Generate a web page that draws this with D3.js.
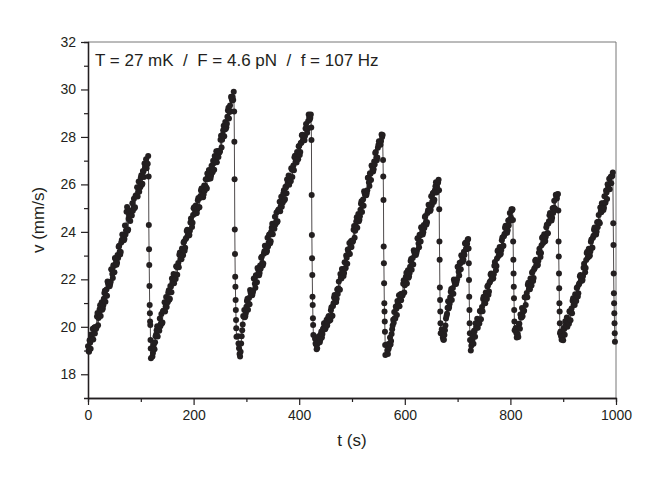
<!DOCTYPE html>
<html>
<head>
<meta charset="utf-8">
<script src="https://cdnjs.cloudflare.com/ajax/libs/d3/7.8.5/d3.min.js"></script>
<style>
  body { margin: 0; background: #fff; }
  svg text { font-family: "Liberation Sans", Arial, Helvetica, sans-serif; fill: #231f20; }
</style>
</head>
<body>
<svg id="chart" width="664" height="487"></svg>
<script>
// each stick-slip cycle: slow ramp (read every ~2 s, plus the readings in between) then the fast drop
var rampStart = [0, 122, 284, 430, 566, 670, 725, 810, 895];
var rampEnd = [114, 276, 422, 558, 664, 720, 804, 890, 994];
var dropStep = 0.4;

var ramp1 = [19.18, 18.95, 19.33, 19.68, 19.47, 19.46, 19.97, 19.99, 19.96, 20.58,
  20.37, 20.74, 20.45, 21.03, 20.77, 21.18, 21.52, 21.31, 21.31, 21.82,
  21.84, 21.80, 22.42, 22.22, 22.59, 22.30, 22.87, 22.61, 23.03, 23.37,
  23.16, 23.15, 23.66, 23.69, 23.65, 24.27, 24.06, 25.05, 24.10, 24.72,
  24.46, 24.87, 25.21, 25.01, 25.00, 25.51, 25.53, 25.49, 26.12, 25.91,
  26.28, 25.99, 26.56, 26.31, 26.72, 27.06, 26.85, 27.20];
var ramp1Mid = [18.98, 19.43, 19.08, 19.58, 19.92, 19.73, 19.72, 19.91, 20.43, 20.07,
  20.57, 20.91, 20.72, 20.72, 20.91, 21.42, 21.06, 21.57, 21.91, 21.72,
  21.71, 21.90, 22.41, 22.06, 22.56, 22.90, 22.71, 22.70, 22.90, 23.41,
  23.05, 23.55, 23.89, 23.71, 23.70, 23.89, 24.85, 24.05, 24.55, 24.89,
  24.70, 24.69, 24.89, 25.40, 25.04, 25.54, 25.88, 25.70, 25.69, 25.88,
  26.39, 26.03, 26.54, 26.88, 26.69, 26.68, 26.87];

var ramp2 = [18.75, 19.20, 19.05, 19.60, 19.85, 19.59, 20.01, 20.35, 20.14, 20.14,
  20.65, 20.68, 20.64, 21.26, 21.06, 21.43, 21.14, 21.72, 21.46, 21.88,
  22.22, 22.01, 22.01, 22.52, 22.54, 22.51, 23.13, 22.93, 23.30, 23.01,
  23.59, 23.33, 23.74, 24.09, 23.88, 23.87, 24.39, 24.41, 24.38, 25.00,
  24.76, 25.11, 24.79, 25.33, 25.04, 25.43, 25.74, 25.50, 25.46, 25.95,
  25.94, 25.87, 26.46, 26.23, 26.57, 26.25, 26.79, 26.51, 26.89, 27.20,
  26.96, 26.93, 27.41, 27.40, 27.40, 28.05, 27.88, 28.28, 28.03, 28.63,
  28.41, 28.85, 29.23, 29.05, 29.08, 29.62, 29.68, 29.90];
var ramp2Mid = [18.90, 19.30, 19.35, 19.68, 20.02, 19.84, 19.83, 20.02, 20.54, 20.18,
  20.68, 21.03, 20.84, 20.83, 21.03, 21.54, 21.18, 21.69, 22.03, 21.85,
  21.84, 22.03, 22.55, 22.19, 22.69, 23.04, 22.85, 22.85, 23.04, 23.55,
  23.20, 23.70, 24.04, 23.86, 23.85, 24.05, 24.56, 24.20, 24.71, 25.04,
  24.82, 24.78, 24.95, 25.43, 25.04, 25.51, 25.83, 25.61, 25.57, 25.73,
  26.22, 25.83, 26.30, 26.61, 26.40, 26.36, 26.52, 27.00, 26.62, 27.09,
  27.40, 27.18, 27.15, 27.34, 27.88, 27.56, 28.09, 28.47, 28.31, 28.34,
  28.56, 29.11, 28.78, 29.32, 29.69, 29.54, 29.56];

var ramp3 = [19.60, 19.10, 18.75, 19.30, 19.85, 20.45, 20.71, 20.45, 20.85, 21.18,
  20.97, 20.95, 21.45, 21.46, 21.42, 22.03, 21.81, 22.17, 21.88, 22.44,
  22.17, 22.58, 22.91, 22.69, 22.67, 23.18, 23.19, 23.14, 23.75, 23.54,
  23.90, 23.60, 24.17, 23.90, 24.30, 24.64, 24.42, 24.40, 24.90, 24.92,
  24.87, 25.48, 25.27, 25.63, 25.33, 25.90, 25.63, 26.03, 26.37, 26.15,
  26.13, 26.63, 26.65, 26.60, 27.21, 27.00, 27.36, 27.06, 27.62, 27.36,
  27.76, 28.09, 27.88, 27.86, 28.36, 28.38, 28.33, 28.94, 28.73, 28.95];
var ramp3Mid = [19.30, 18.85, 18.95, 19.60, 20.10, 20.42, 20.40, 20.58, 21.09, 20.72,
  21.21, 21.55, 21.35, 21.33, 21.52, 22.02, 21.65, 22.15, 22.48, 22.28,
  22.27, 22.45, 22.95, 22.58, 23.08, 23.41, 23.21, 23.20, 23.38, 23.88,
  23.52, 24.01, 24.34, 24.15, 24.13, 24.31, 24.82, 24.45, 24.94, 25.27,
  25.08, 25.06, 25.24, 25.75, 25.38, 25.87, 26.21, 26.01, 25.99, 26.18,
  26.68, 26.31, 26.80, 27.14, 26.94, 26.92, 27.11, 27.61, 27.24, 27.74,
  28.07, 27.87, 27.86, 28.04, 28.54, 28.18, 28.67, 28.82, 28.81];

var ramp4 = [19.50, 19.25, 19.10, 19.35, 19.55, 19.45, 19.80, 19.70, 19.95, 20.10,
  19.95, 20.30, 20.20, 20.45, 20.40, 20.70, 20.45, 20.88, 21.23, 21.04,
  21.05, 21.57, 21.61, 21.58, 22.22, 22.03, 22.41, 22.14, 22.72, 22.48,
  22.91, 23.26, 23.07, 23.07, 23.60, 23.64, 23.61, 24.25, 24.05, 24.44,
  24.17, 24.75, 24.51, 24.93, 25.29, 25.10, 25.10, 25.63, 25.66, 25.64,
  26.28, 26.08, 26.47, 26.19, 26.78, 26.54, 26.96, 27.32, 27.12, 27.13,
  27.66, 27.69, 27.67, 28.10, 28.08];
var ramp4Mid = [19.30, 19.05, 19.30, 19.60, 19.35, 19.70, 19.55, 19.90, 20.15, 19.90,
  20.20, 20.05, 20.40, 20.25, 20.29, 20.82, 20.47, 20.99, 21.34, 21.17,
  21.18, 21.38, 21.91, 21.56, 22.08, 22.44, 22.26, 22.27, 22.47, 23.00,
  22.66, 23.17, 23.53, 23.35, 23.36, 23.57, 24.09, 23.75, 24.26, 24.62,
  24.45, 24.45, 24.66, 25.18, 24.84, 25.36, 25.71, 25.54, 25.54, 25.75,
  26.28, 25.93, 26.45, 26.80, 26.63, 26.64, 26.84, 27.37, 27.02, 27.54,
  27.82, 27.72, 27.83, 28.00];

var ramp5 = [19.25, 18.85, 19.15, 19.55, 19.40, 19.90, 20.30, 20.62, 20.35, 20.76,
  21.09, 20.88, 20.87, 21.37, 21.39, 21.34, 21.96, 21.75, 22.11, 21.82,
  22.38, 22.12, 22.53, 22.86, 22.65, 22.63, 23.14, 23.16, 23.11, 23.73,
  23.51, 23.88, 23.59, 24.15, 23.89, 24.29, 24.63, 24.42, 24.40, 24.91,
  24.92, 24.88, 25.50, 25.28, 25.65, 25.35, 25.92, 25.66, 26.06, 26.20];
var ramp5Mid = [19.00, 19.05, 19.30, 19.25, 19.70, 20.05, 20.17, 20.36, 20.86, 20.50,
  20.99, 21.33, 21.14, 21.12, 21.31, 21.81, 21.45, 21.95, 22.28, 22.09,
  22.07, 22.26, 22.77, 22.40, 22.90, 23.23, 23.04, 23.03, 23.21, 23.72,
  23.35, 23.85, 24.19, 23.99, 23.98, 24.16, 24.67, 24.31, 24.80, 25.14,
  24.94, 24.93, 25.12, 25.62, 25.26, 25.75, 26.09, 25.90, 26.08];

var ramp6 = [19.90, 19.55, 19.45, 19.85, 20.35, 20.55, 21.08, 20.83, 21.24, 21.59,
  21.39, 21.39, 21.90, 21.93, 21.90, 22.53, 22.32, 22.70, 22.42, 22.99,
  22.74, 23.16, 23.51, 23.30, 23.50, 23.70];
var ramp6Mid = [19.70, 19.45, 19.65, 20.05, 20.45, 20.80, 20.77, 20.97, 21.48, 21.13,
  21.64, 21.99, 21.80, 21.80, 22.00, 22.51, 22.16, 22.67, 23.02, 22.83,
  22.83, 23.03, 23.54, 23.27, 23.67];

var ramp7 = [19.00, 19.35, 19.60, 19.83, 19.58, 19.99, 20.34, 20.14, 20.14, 20.65,
  20.68, 20.65, 21.27, 21.07, 21.45, 21.17, 21.74, 21.49, 21.91, 22.25,
  22.05, 22.05, 22.57, 22.59, 22.56, 23.19, 22.98, 23.36, 23.08, 23.65,
  23.40, 23.82, 24.17, 23.96, 23.96, 24.48, 24.50, 24.47, 24.95, 24.95];
var ramp7Mid = [19.20, 19.45, 19.29, 19.80, 20.15, 19.96, 19.96, 20.16, 20.67, 20.32,
  20.83, 21.17, 20.99, 20.99, 21.19, 21.70, 21.35, 21.86, 22.20, 22.02,
  22.02, 22.21, 22.73, 22.38, 22.88, 23.23, 23.05, 23.05, 23.24, 23.76,
  23.41, 23.91, 24.26, 24.08, 24.07, 24.27, 24.79, 24.61, 24.91];

var ramp8 = [19.95, 19.55, 19.70, 20.13, 19.92, 20.39, 20.79, 20.63, 20.68, 21.25,
  21.27, 21.24, 21.86, 21.66, 22.03, 21.74, 22.32, 22.06, 22.48, 22.82,
  22.62, 22.61, 23.12, 23.15, 23.11, 23.74, 23.53, 23.90, 23.62, 24.19,
  23.94, 24.35, 24.70, 24.49, 24.48, 25.00, 25.02, 24.99, 25.56, 25.41, 25.60];
var ramp8Mid = [19.75, 19.60, 19.57, 20.13, 20.52, 20.39, 20.44, 20.69, 21.25, 20.92,
  21.42, 21.77, 21.58, 21.58, 21.77, 22.28, 21.93, 22.43, 22.78, 22.59,
  22.58, 22.78, 23.29, 22.94, 23.44, 23.78, 23.60, 23.59, 23.79, 24.30,
  23.94, 24.45, 24.79, 24.61, 24.60, 24.79, 25.31, 24.95, 25.46, 25.57];

var ramp9 = [19.80, 19.45, 19.60, 19.95, 19.67, 20.07, 20.39, 20.16, 20.13, 20.62,
  20.63, 20.57, 21.20, 20.99, 21.37, 21.09, 21.67, 21.41, 21.83, 22.18,
  21.98, 21.97, 22.49, 22.52, 22.48, 23.11, 22.91, 23.29, 23.00, 23.58,
  23.33, 23.75, 24.09, 23.89, 23.89, 24.41, 24.43, 24.40, 25.03, 24.83,
  25.20, 24.92, 25.50, 25.24, 25.66, 26.01, 25.81, 25.80, 26.32, 26.35, 26.50];
var ramp9Mid = [19.60, 19.50, 19.43, 19.91, 20.23, 20.03, 20.00, 20.17, 20.66, 20.28,
  20.77, 21.10, 20.92, 20.92, 21.11, 21.63, 21.28, 21.78, 22.13, 21.95,
  21.94, 22.14, 22.66, 22.30, 22.81, 23.16, 22.97, 22.97, 23.17, 23.68,
  23.33, 23.84, 24.18, 24.00, 24.00, 24.19, 24.71, 24.36, 24.86, 25.21,
  25.03, 25.02, 25.22, 25.74, 25.38, 25.89, 26.24, 26.05, 26.05, 26.35];

var drop1 = [26.33, 24.29, 23.27, 22.60, 21.72, 20.92, 20.57, 20.22, 20.08, 19.44, 19.09, 18.67];
var drop2 = [29.07, 27.80, 26.22, 24.10, 23.07, 22.11, 21.69, 21.13, 20.71, 20.29, 19.94, 19.58];
var drop3 = [28.40, 27.87, 25.55, 23.87, 22.89, 22.18, 21.27, 20.92, 20.36, 20.08, 19.65];
var drop4 = [27.03, 26.33, 25.34, 23.38, 22.68, 21.83, 20.99, 20.64, 20.22, 19.79, 19.23, 18.81];
var drop5 = [25.75, 24.95, 23.59, 22.82, 21.66, 21.13, 20.64, 20.15, 19.73];
var drop6 = [23.30, 22.68, 21.97, 21.27, 20.71, 20.15, 19.73, 19.44];
var drop7 = [24.50, 23.59, 22.82, 22.25, 21.69, 21.20, 20.71, 20.22, 19.85];
var drop8 = [24.90, 23.59, 22.96, 22.25, 21.62, 20.99, 20.64, 20.15, 19.73];
var drop9 = [24.36, 23.45, 22.25, 21.41, 20.99, 20.57, 20.15, 19.73, 19.37];

var xMajor = [0, 200, 400, 600, 800, 1000];
var xMinor = [100, 300, 500, 700, 900];
var yMajor = [18, 20, 22, 24, 26, 28, 30, 32];
var yMinor = [19, 21, 23, 25, 27, 29, 31];

var ramps = [ramp1, ramp2, ramp3, ramp4, ramp5, ramp6, ramp7, ramp8, ramp9];
var mids = [ramp1Mid, ramp2Mid, ramp3Mid, ramp4Mid, ramp5Mid, ramp6Mid, ramp7Mid, ramp8Mid, ramp9Mid];
var drops = [drop1, drop2, drop3, drop4, drop5, drop6, drop7, drop8, drop9];

var points = [];
ramps.forEach(function (r, k) {
  var mid = mids[k];
  var dt = (rampEnd[k] - rampStart[k]) / (r.length - 1);
  r.forEach(function (v, i) {
    points.push({ t: rampStart[k] + i * dt, v: v });
    if (i < mid.length) {
      points.push({ t: rampStart[k] + (i + 0.5) * dt, v: mid[i] });
    }
  });
  drops[k].forEach(function (v, i) {
    points.push({ t: rampEnd[k] + 0.8 + i * dropStep, v: v });
  });
});

var svg = d3.select("#chart");
// note: "top" is taken by window.top, so plot edges get their own names
var plotLeft = 88, plotRight = 616, plotTop = 42, plotBottom = 398;

var x = d3.scaleLinear().domain([0, 1000]).range([plotLeft, plotRight]);
var y = d3.scaleLinear().domain([17, 32]).range([plotBottom, plotTop]);

// frame (top and right are plain lines)
svg.append("line").attr("x1", plotLeft).attr("x2", plotRight).attr("y1", plotTop).attr("y2", plotTop)
  .attr("stroke", "#777").attr("stroke-width", 1);
svg.append("line").attr("x1", plotRight).attr("x2", plotRight).attr("y1", plotTop).attr("y2", plotBottom)
  .attr("stroke", "#777").attr("stroke-width", 1);

function styleAxis(g) {
  g.select(".domain").attr("stroke", "#231f20").attr("stroke-width", 1.3);
  g.selectAll(".tick line").attr("stroke", "#231f20").attr("stroke-width", 1.2);
  g.selectAll(".tick text").attr("font-size", "14px").attr("fill", "#231f20")
    .attr("font-family", "Liberation Sans, Arial, sans-serif");
}

svg.append("g").attr("transform", "translate(0," + plotBottom + ")")
  .call(d3.axisBottom(x).tickValues(xMinor).tickSize(4).tickFormat(""))
  .call(styleAxis);
svg.append("g").attr("transform", "translate(0," + plotBottom + ")")
  .call(d3.axisBottom(x).tickValues(xMajor).tickSize(7).tickSizeOuter(0).tickPadding(5)
    .tickFormat(d3.format("d")))
  .call(styleAxis);

svg.append("g").attr("transform", "translate(" + plotLeft + ",0)")
  .call(d3.axisLeft(y).tickValues(yMinor).tickSize(4).tickFormat(""))
  .call(styleAxis);
svg.append("g").attr("transform", "translate(" + plotLeft + ",0)")
  .call(d3.axisLeft(y).tickValues(yMajor).tickSize(7).tickSizeOuter(0).tickPadding(5)
    .tickFormat(d3.format("d")))
  .call(styleAxis);

var line = d3.line()
  .x(function (d) { return x(d.t); })
  .y(function (d) { return y(d.v); });

svg.append("path")
  .datum(points)
  .attr("d", line)
  .attr("fill", "none")
  .attr("stroke", "#3a3637")
  .attr("stroke-width", 0.9);

svg.append("g").selectAll("circle")
  .data(points)
  .enter()
  .append("circle")
  .attr("cx", function (d) { return x(d.t); })
  .attr("cy", function (d) { return y(d.v); })
  .attr("r", 3)
  .attr("fill", "#231f20");

svg.append("text")
  .attr("x", 95).attr("y", 66)
  .attr("font-size", "17px")
  .style("white-space", "pre")
  .text("T = 27 mK  /  F = 4.6 pN  /  f = 107 Hz");

svg.append("text")
  .attr("transform", "translate(44," + ((plotTop + plotBottom) / 2) + ") rotate(-90)")
  .attr("text-anchor", "middle")
  .attr("font-size", "17px")
  .text("v (mm/s)");

svg.append("text")
  .attr("x", (plotLeft + plotRight) / 2).attr("y", 446)
  .attr("text-anchor", "middle")
  .attr("font-size", "17px")
  .text("t (s)");
</script>
</body>
</html>
